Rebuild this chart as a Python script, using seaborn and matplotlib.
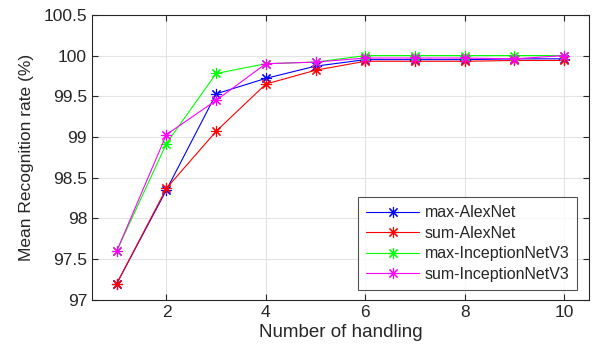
import pandas as pd
import seaborn as sns
import matplotlib.pyplot as plt

# values
handling = [1, 2, 3, 4, 5, 6, 7, 8, 9, 10]
max_alexnet = [97.2, 98.35, 99.53, 99.72, 99.87, 99.95, 99.95, 99.95, 99.96, 99.96]
sum_alexnet = [97.2, 98.37, 99.07, 99.65, 99.82, 99.93, 99.93, 99.93, 99.94, 99.94]
max_inception = [97.6, 98.92, 99.78, 99.9, 99.92, 100.0, 100.0, 100.0, 100.0, 100.0]
sum_inception = [97.6, 99.03, 99.45, 99.9, 99.92, 99.97, 99.97, 99.97, 99.96, 100.0]

series_names = ["max-AlexNet", "sum-AlexNet", "max-InceptionNetV3", "sum-InceptionNetV3"]
series_vals = [max_alexnet, sum_alexnet, max_inception, sum_inception]
colors = ["#0000ff", "#ff0000", "#00ff00", "#ff00ff"]

df = pd.concat([pd.DataFrame({"handling": handling, "rate": v, "model": n})
                for n, v in zip(series_names, series_vals)], ignore_index=True)

sns.set_style("whitegrid")
plt.rcParams["font.family"] = ["Liberation Sans", "DejaVu Sans"]

fig = plt.figure(figsize=(5.93, 3.54), dpi=100)
ax = fig.add_axes([0.155, 0.153, 0.838, 0.805])

for name, col in zip(series_names, colors):
    sns.lineplot(data=df[df["model"] == name], x="handling", y="rate", ax=ax,
                 color=col, linewidth=0.8, marker=(8, 2, 0), markersize=8,
                 markeredgecolor=col, markeredgewidth=0.8, label=name)

ax.set_xlim(0.5, 10.5)
ax.set_ylim(97, 100.5)
ax.set_xticks([2, 4, 6, 8, 10])
ax.set_yticks([97, 97.5, 98, 98.5, 99, 99.5, 100, 100.5])
ax.set_yticklabels(["97", "97.5", "98", "98.5", "99", "99.5", "100", "100.5"])
ax.grid(True, color="#e3e3e3", linewidth=0.8)
for s in ax.spines.values():
    s.set_visible(True)
    s.set_color("#262626")
    s.set_linewidth(0.8)
ax.tick_params(direction="in", length=4, width=0.8, color="#262626",
               labelsize=12.5, labelcolor="#262626", top=True, right=True,
               bottom=True, left=True)
ax.set_xlabel("Number of handling", fontsize=13.5, color="#262626", labelpad=3)
ax.set_ylabel("Mean Recognition rate (%)", fontsize=12.5, color="#262626", labelpad=7)

leg = ax.legend(loc="lower right", bbox_to_anchor=(0.977, 0.035), fontsize=11.5,
                frameon=True, fancybox=False, edgecolor="#262626",
                handlelength=3.3, handletextpad=0.35, borderpad=0.5,
                labelspacing=0.35, borderaxespad=0)
leg.get_frame().set_linewidth(0.8)

fig.savefig("out.png", dpi=100)
